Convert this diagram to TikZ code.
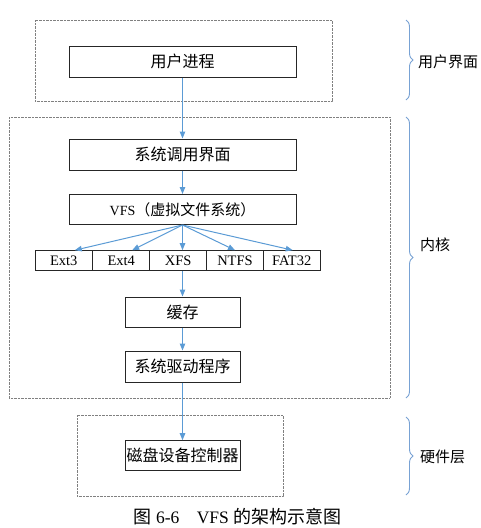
\documentclass[tikz,border=0pt]{standalone}
\usepackage{fontspec}
\setmainfont{Liberation Serif}
\newfontfamily\cjk{Noto Sans CJK SC}
\usetikzlibrary{arrows.meta,decorations.pathreplacing,calc}
\definecolor{arrowblue}{RGB}{91,155,213}
\definecolor{braceblue}{RGB}{120,162,212}
\newcommand{\zh}[1]{{\fontsize{16}{18}\selectfont\cjk #1}}
\begin{document}
\begin{tikzpicture}[x=1pt,y=-1pt,
  box/.style={draw=black!85, line width=1pt, fill=white, minimum height=31pt, inner sep=0pt, font=\fontsize{14}{16}\selectfont},
  fsbox/.style={draw=black!85, line width=1pt, fill=white, minimum width=57pt, minimum height=20pt, inner sep=0pt, font=\fontsize{14.5}{16}\selectfont},
  zone/.style={draw=gray, line width=0.8pt, dash pattern=on 0.7pt off 0.7pt},
  flow/.style={draw=arrowblue, line width=1pt, -{Triangle[length=7pt,width=5.5pt]}},
  brc/.style={draw=braceblue, line width=0.9pt, decorate, decoration={brace,amplitude=7pt}},
  lab/.style={anchor=west, inner sep=0pt, font=\fontsize{15}{17}\selectfont\cjk}]
\path[use as bounding box] (0,0) rectangle (481,528);
% zones
\draw[zone] (35,20) rectangle (332,101);
\draw[zone] (9,117) rectangle (390,398);
\draw[zone] (77,415) rectangle (283,496);
% nodes
\node[box, minimum width=227pt] (proc) at (182.5,61.5) {\zh{用户进程}};
\node[box, minimum width=227pt] (sci) at (182.5,154.5) {\zh{系统调用界面}};
\node[box, minimum width=227pt, minimum height=30pt] (vfs) at (182.5,209.5) {VFS{\fontsize{15}{17}\selectfont\cjk （虚拟文件系统）}};
\node[fsbox] (ext3) at (63.8,260.7) {Ext3};
\node[fsbox] (ext4) at (121.2,260.7) {Ext4};
\node[fsbox] (xfs) at (178.2,260.7) {XFS};
\node[fsbox] (ntfs) at (235,260.7) {NTFS};
\node[fsbox] (fat) at (291.7,260.7) {FAT32};
\node[box, minimum width=115pt, minimum height=30pt] (cache) at (182.5,312) {\zh{缓存}};
\node[box, minimum width=115pt] (drv) at (182.5,366.5) {\zh{系统驱动程序}};
\node[box, minimum width=115pt, minimum height=30pt] (disk) at (182.5,455.7) {\zh{磁盘设备控制器}};
% arrows
\draw[flow] (proc.south) -- (sci.north);
\draw[flow] (sci.south) -- (vfs.north);
\draw[flow] (vfs.south) -- ($(ext3.north)+(11,0)$);
\draw[flow] (vfs.south) -- ($(ext4.north)+(11,0)$);
\draw[flow] (vfs.south) -- (xfs.north -| vfs.south);
\draw[flow] (vfs.south) -- (ntfs.north);
\draw[flow] (vfs.south) -- ($(fat.north)+(1,0)$);
\draw[flow] (xfs.south -| cache.north) -- (cache.north);
\draw[flow] (cache.south) -- (drv.north);
\draw[flow] (drv.south) -- (disk.north);
% braces
\draw[brc] (406,20) -- (406,100);
\draw[brc] (406,117) -- (406,398);
\draw[brc] (406,417) -- (406,495);
\node[lab] (l1) at (418,62) {用户界面};
\node[lab] (l2) at (420,245) {内核};
\node[lab] (l3) at (420,457) {硬件层};
% caption
\node[inner sep=0pt] (cap) at (237.5,517) {{\fontsize{18}{20}\selectfont\cjk 图}\fontsize{17.5}{20}\selectfont\ 6-6\hspace{1em}VFS {\fontsize{18}{20}\selectfont\cjk 的架构示意图}};
\end{tikzpicture}
\end{document}
